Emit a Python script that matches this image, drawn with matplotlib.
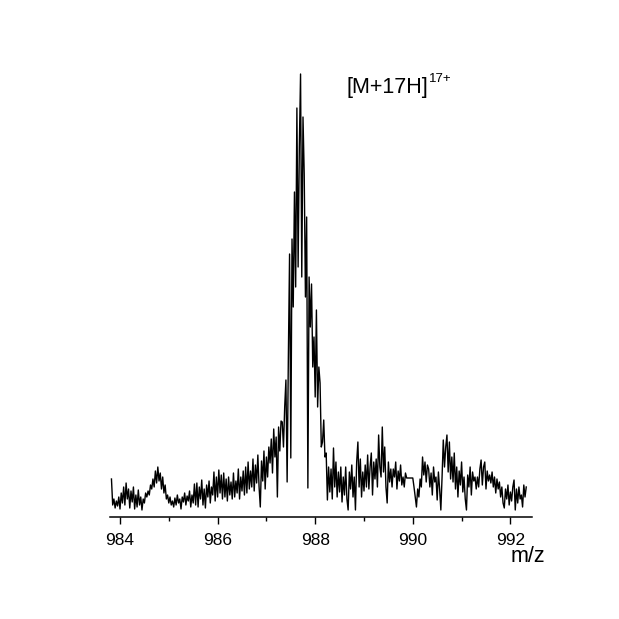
import numpy as np
import matplotlib
matplotlib.use("Agg")
import matplotlib.pyplot as plt
from matplotlib.ticker import MultipleLocator

plt.rcParams['font.family'] = ['Liberation Sans', 'DejaVu Sans']

# m/z sampling grid of the spectrum
mz_start = 983.825
mz_step = 0.025

# intensity (arbitrary units), one value per m/z step
intensity = [
    38, 12, 18, 9, 16, 11, 20, 8, 24, 14,
    30, 12, 34, 18, 28, 9, 26, 15, 30, 8,
    22, 10, 27, 12, 20, 7, 18, 14, 24, 20,
    26, 22, 32, 28, 38, 30, 46, 34, 50, 36,
    44, 28, 40, 24, 32, 18, 22, 14, 20, 12,
    16, 10, 19, 12, 22, 14, 18, 8, 20, 15,
    24, 12, 21, 16, 26, 10, 22, 14, 33, 12,
    34, 10, 30, 18, 37, 12, 28, 9, 32, 20,
    36, 14, 30, 22, 45, 16, 40, 20, 47, 24,
    42, 18, 44, 20, 38, 16, 40, 22, 35, 18,
    44, 20, 36, 24, 48, 18, 40, 26, 46, 22,
    50, 24, 55, 28, 46, 30, 58, 26, 52, 34,
    62, 30, 10, 56, 36, 66, 28, 60, 40, 70,
    54, 78, 44, 88, 60, 80, 20, 90, 66, 96,
    95, 70, 110, 137, 35, 160, 263, 59, 278, 210,
    325, 230, 409, 250, 370, 443, 240, 400, 343, 220,
    300, 29, 240, 190, 233, 150, 180, 120, 207, 110,
    150, 134, 70, 75, 97, 60, 64, 17, 50, 25,
    48, 18, 69, 30, 55, 20, 45, 25, 50, 15,
    40, 22, 50, 18, 7, 45, 28, 52, 20, 40,
    7, 55, 75, 30, 58, 20, 45, 26, 52, 30,
    62, 28, 50, 64, 22, 55, 38, 58, 30, 82,
    50, 40, 90, 45, 70, 30, 14, 55, 35, 48,
    30, 48, 40, 55, 28, 46, 36, 52, 32, 40,
    30, 44, 39, 39, 39, 39, 39, 39, 30, 20,
    10, 28, 20, 38, 30, 60, 42, 55, 35, 52,
    48, 30, 44, 22, 50, 35, 40, 17, 45, 28,
    7, 40, 77, 50, 70, 82, 45, 75, 38, 60,
    35, 64, 28, 50, 20, 46, 32, 55, 25, 40,
    18, 7, 42, 30, 50, 22, 45, 36, 40, 28,
    40, 30, 48, 57, 32, 50, 55, 28, 46, 36,
    42, 34, 45, 30, 40, 24, 38, 28, 35, 20,
    30, 14, 9, 28, 18, 32, 12, 25, 16, 30,
    37, 7, 28, 14, 30, 18, 22, 10, 32, 20,
    30,
]

major_ticks = [984, 986, 988, 990, 992]
tick_labels = ["984", "986", "988", "990", "992"]

mz = mz_start + mz_step * np.arange(len(intensity))

W = H = 619
fig = plt.figure(figsize=(W / 100, H / 100), dpi=100)
ax = fig.add_axes([110 / W, 102 / H, 422 / W, 457 / H])

ax.plot(mz, intensity, color='black', lw=1.0)

ax.set_xlim(983.795, 992.443)
ax.set_ylim(0, 457)

for s in ['top', 'right', 'left']:
    ax.spines[s].set_visible(False)
ax.spines['bottom'].set_linewidth(1.1)
ax.set_yticks([])
ax.set_xticks(major_ticks)
ax.set_xticklabels(tick_labels)
ax.xaxis.set_minor_locator(MultipleLocator(1))
ax.tick_params(axis='x', which='major', direction='out', length=5, width=1.0,
               labelsize=12.5, pad=6.5)
ax.tick_params(axis='x', which='minor', direction='out', length=3, width=1.0)

fig.text(511 / W, 1 - 562 / H, "m/z", ha='left', va='baseline', fontsize=15.5)
fig.text(347 / W, 1 - 93 / H, "[M+17H]", ha='left', va='baseline', fontsize=15.5)
fig.text(429 / W, 1 - 82 / H, "17+", ha='left', va='baseline', fontsize=9.5)

fig.savefig("out.png", dpi=100, facecolor='white')
